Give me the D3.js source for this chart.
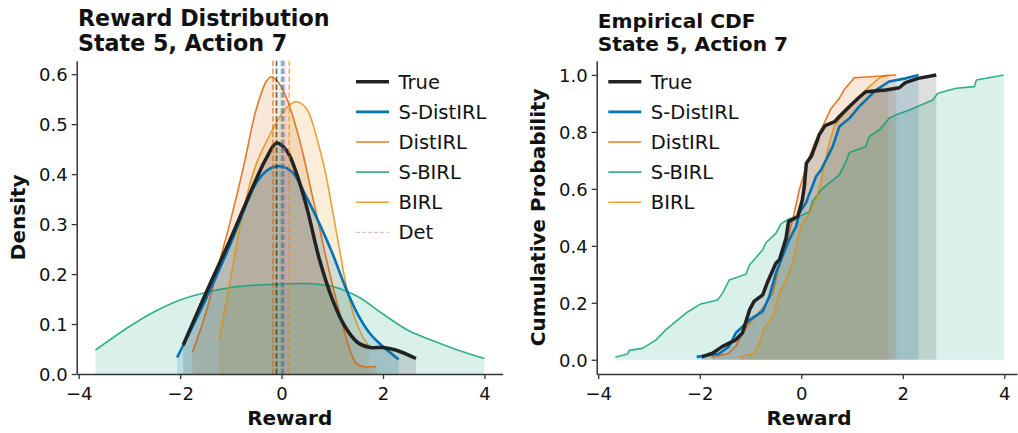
<!DOCTYPE html>
<html>
<head>
<meta charset="utf-8">
<script src="https://cdn.jsdelivr.net/npm/d3@7"></script>
<style>
  html, body { margin: 0; padding: 0; background: #fff; }
  svg { display: block; font-family: "DejaVu Sans", sans-serif; }
</style>
</head>
<body>
<svg id="chart" width="1018" height="433"></svg>
<script>
// ---------------- DATA ----------------
const methods = ["True", "S-DistIRL", "DistIRL", "S-BIRL", "BIRL"];
const xTicks = [-4, -2, 0, 2, 4];
const densityTicks = [0, 0.1, 0.2, 0.3, 0.4, 0.5, 0.6];
const cdfTicks = [0, 0.2, 0.4, 0.6, 0.8, 1.0];

// KDE curves [reward, density]
const kdeTrue = [[-1.94,0.058],[-1.5,0.16],[-1.0,0.272],[-0.5,0.39],[-0.3,0.432],[-0.1,0.462],[0.1,0.447],[0.3,0.40],[0.5,0.332],[0.75,0.228],[1.0,0.15],[1.25,0.095],[1.5,0.063],[1.75,0.053],[2.0,0.053],[2.25,0.048],[2.65,0.031]];
const kdeSDist = [[-2.06,0.033],[-1.5,0.148],[-1.0,0.262],[-0.5,0.382],[-0.25,0.41],[-0.05,0.416],[0.2,0.405],[0.5,0.352],[0.75,0.30],[1.0,0.242],[1.25,0.176],[1.5,0.12],[1.75,0.08],[2.0,0.055],[2.31,0.029]];
const kdeDist = [[-1.76,0.043],[-1.5,0.12],[-1.25,0.215],[-1.0,0.31],[-0.75,0.415],[-0.5,0.53],[-0.3,0.586],[-0.2,0.595],[-0.05,0.582],[0.1,0.552],[0.35,0.47],[0.6,0.36],[0.85,0.245],[1.0,0.18],[1.2,0.1],[1.35,0.048],[1.47,0.022],[1.6,0.015],[1.87,0.015]];
const kdeSBirl = [[-3.67,0.048],[-3.0,0.095],[-2.5,0.125],[-2.0,0.148],[-1.5,0.163],[-1.0,0.173],[-0.5,0.178],[0.0,0.18],[0.5,0.181],[1.0,0.175],[1.5,0.155],[2.0,0.12],[2.5,0.087],[3.0,0.066],[3.5,0.047],[4.0,0.031]];
const kdeBirl = [[-1.23,0.068],[-1.0,0.195],[-0.75,0.33],[-0.5,0.42],[-0.25,0.475],[0.0,0.52],[0.15,0.538],[0.3,0.545],[0.5,0.53],[0.7,0.47],[0.85,0.41],[1.0,0.33],[1.15,0.245],[1.3,0.165],[1.45,0.11],[1.6,0.075],[1.72,0.056]];

// mean reward markers (dashed vertical lines)
const meanNames = ["DistIRL", "True", "S-BIRL", "S-DistIRL", "Det", "BIRL"];
const meanValues = [-0.17, -0.10, 0.0, 0.03, 0.06, 0.15];

// Empirical CDF curves [reward, cumulative probability]
const cdfTrue = [[-1.96,0.01],[-1.75,0.023],[-1.55,0.047],[-1.29,0.07],[-1.16,0.094],[-1.08,0.14],[-1.02,0.175],[-0.93,0.205],[-0.76,0.228],[-0.66,0.275],[-0.5,0.339],[-0.43,0.351],[-0.3,0.427],[-0.25,0.485],[-0.07,0.503],[0.02,0.56],[0.06,0.608],[0.1,0.69],[0.2,0.715],[0.32,0.772],[0.35,0.789],[0.47,0.822],[0.66,0.836],[0.75,0.854],[0.88,0.877],[0.95,0.889],[1.12,0.918],[1.27,0.941],[1.67,0.947],[1.93,0.955],[2.05,0.973],[2.3,0.988],[2.66,1.0]];
const cdfSDist = [[-2.06,0.01],[-1.62,0.021],[-1.42,0.047],[-1.29,0.094],[-1.02,0.14],[-0.76,0.17],[-0.63,0.222],[-0.5,0.304],[-0.37,0.363],[-0.24,0.421],[-0.1,0.468],[-0.04,0.515],[0.09,0.55],[0.19,0.596],[0.29,0.643],[0.39,0.667],[0.52,0.713],[0.62,0.749],[0.75,0.819],[0.95,0.848],[1.14,0.889],[1.34,0.924],[1.47,0.947],[1.73,0.977],[2.06,0.988],[2.31,1.0]];
const cdfDist = [[-1.76,0.01],[-1.45,0.021],[-1.29,0.047],[-1.19,0.082],[-1.02,0.129],[-0.76,0.181],[-0.56,0.234],[-0.47,0.304],[-0.37,0.374],[-0.24,0.444],[-0.14,0.515],[-0.04,0.596],[0.06,0.655],[0.16,0.713],[0.29,0.772],[0.42,0.819],[0.58,0.88],[0.75,0.918],[0.85,0.95],[1.01,0.982],[1.04,0.99],[1.87,1.0]];
const cdfSBirl = [[-3.66,0.01],[-3.42,0.02],[-3.39,0.033],[-3.13,0.04],[-2.86,0.07],[-2.67,0.105],[-2.47,0.135],[-2.27,0.164],[-1.98,0.196],[-1.65,0.21],[-1.55,0.234],[-1.42,0.28],[-1.09,0.30],[-1.02,0.333],[-0.76,0.386],[-0.7,0.41],[-0.5,0.444],[-0.4,0.477],[-0.24,0.495],[-0.04,0.503],[0.16,0.52],[0.22,0.556],[0.42,0.602],[0.75,0.649],[0.88,0.696],[0.95,0.728],[1.27,0.749],[1.34,0.784],[1.54,0.807],[1.73,0.848],[1.87,0.86],[2.13,0.877],[2.59,0.912],[2.69,0.936],[3.05,0.953],[3.41,0.959],[3.45,0.982],[3.99,1.0]];
const cdfBirl = [[-1.22,0.01],[-0.93,0.021],[-0.83,0.058],[-0.73,0.111],[-0.56,0.152],[-0.43,0.234],[-0.33,0.269],[-0.17,0.339],[-0.1,0.398],[-0.01,0.468],[0.16,0.515],[0.29,0.561],[0.39,0.626],[0.45,0.678],[0.55,0.76],[0.65,0.819],[0.75,0.842],[0.95,0.889],[1.14,0.924],[1.34,0.959],[1.54,0.99],[1.72,1.0]];

// ---------------- STYLE ----------------
const style = {
  "True":      { color: "#222222", width: 3.5, alpha: 1.0 },
  "S-DistIRL": { color: "#0173b2", width: 2.6, alpha: 1.0 },
  "DistIRL":   { color: "#d55e00", width: 1.6, alpha: 0.8 },
  "S-BIRL":    { color: "#029e73", width: 1.6, alpha: 0.8 },
  "BIRL":      { color: "#de8f05", width: 1.6, alpha: 0.8 },
  "Det":       { color: "#cc78bc", width: 1.3, alpha: 0.5 }
};
const kdeData = { "True": kdeTrue, "S-DistIRL": kdeSDist, "DistIRL": kdeDist, "S-BIRL": kdeSBirl, "BIRL": kdeBirl };
const cdfData = { "True": cdfTrue, "S-DistIRL": cdfSDist, "DistIRL": cdfDist, "S-BIRL": cdfSBirl, "BIRL": cdfBirl };
const drawOrder = ["S-BIRL", "BIRL", "DistIRL", "S-DistIRL", "True"];

const svg = d3.select("#chart");
const spineColor = "#333";

function makeAxes(g, x, y, yTicks, yFmt) {
  const xa = g.append("g").attr("transform", `translate(0,${y.range()[0]})`)
    .call(d3.axisBottom(x).tickValues(xTicks).tickSize(5).tickSizeOuter(0).tickPadding(4).tickFormat(d3.format("d")));
  const ya = g.append("g").attr("transform", `translate(${x.range()[0]},0)`)
    .call(d3.axisLeft(y).tickValues(yTicks).tickSize(5).tickSizeOuter(0).tickPadding(4).tickFormat(d3.format(yFmt)));
  [xa, ya].forEach(a => {
    a.select(".domain").attr("stroke", spineColor).attr("stroke-width", 1.5);
    a.selectAll(".tick line").attr("stroke", spineColor).attr("stroke-width", 1.3);
    a.selectAll(".tick text").attr("fill", "#111").style("font-size", "18px").style("font-family", "DejaVu Sans");
  });
  ya.selectAll(".tick text").attr("dy", "0.35em");
  xa.selectAll(".tick text").attr("dy", "0.95em");
}

function legend(g, x0, names) {
  names.forEach((n, i) => {
    const s = style[n];
    const yy = 81.7 + i * 30.15;
    g.append("line").attr("x1", x0).attr("x2", x0 + 33).attr("y1", yy).attr("y2", yy)
      .attr("stroke", s.color).attr("stroke-opacity", s.alpha).attr("stroke-width", s.width)
      .attr("stroke-dasharray", n === "Det" ? "4,2" : null);
    g.append("text").attr("x", x0 + 42.5).attr("y", yy + 7).text(n)
      .style("font-size", "19.5px").attr("fill", "#111");
  });
}

// ---------------- LEFT: density ----------------
{
  const g = svg.append("g");
  const x = d3.scaleLinear().domain([-4.04, 4.36]).range([76.7, 502.7]);
  const y = d3.scaleLinear().domain([0, 0.627]).range([374, 60.7]);
  const area = d3.area().x(d => x(d[0])).y0(y(0)).y1(d => y(d[1])).curve(d3.curveCatmullRom.alpha(0.5));
  const line = d3.line().x(d => x(d[0])).y(d => y(d[1])).curve(d3.curveCatmullRom.alpha(0.5));
  drawOrder.forEach(n => {
    g.append("path").attr("d", area(kdeData[n])).attr("fill", style[n].color).attr("fill-opacity", 0.15);
  });
  drawOrder.forEach(n => {
    g.append("path").attr("d", line(kdeData[n])).attr("fill", "none")
      .attr("stroke", style[n].color).attr("stroke-opacity", style[n].alpha).attr("stroke-width", style[n].width);
  });
  meanNames.forEach((n, i) => {
    const s = style[n];
    g.append("line").attr("x1", x(meanValues[i])).attr("x2", x(meanValues[i]))
      .attr("y1", y.range()[1]).attr("y2", y(0))
      .attr("stroke", s.color).attr("stroke-width", 1.6)
      .attr("stroke-opacity", n === "Det" ? 0.5 : (n === "True" ? 0.7 : 0.6))
      .attr("stroke-dasharray", "5.5,2.4");
  });
  makeAxes(g, x, y, densityTicks, ".1f");
  legend(g, 356, ["True", "S-DistIRL", "DistIRL", "S-BIRL", "BIRL", "Det"]);
  g.append("text").attr("x", 78).attr("y", 26).text("Reward Distribution")
    .style("font-size", "22.2px").style("font-weight", "bold").attr("fill", "#111");
  g.append("text").attr("x", 78).attr("y", 51).text("State 5, Action 7")
    .style("font-size", "22.2px").style("font-weight", "bold").attr("fill", "#111");
  g.append("text").attr("x", 289.7).attr("y", 425).attr("text-anchor", "middle").text("Reward")
    .style("font-size", "20px").style("font-weight", "bold").attr("fill", "#111");
  g.append("text").attr("transform", "translate(24.5,217.3) rotate(-90)").attr("text-anchor", "middle").text("Density")
    .style("font-size", "20px").style("font-weight", "bold").attr("fill", "#111");
}

// ---------------- RIGHT: ECDF ----------------
{
  const g = svg.append("g");
  const x = d3.scaleLinear().domain([-4.03, 4.25]).range([596.7, 1017]);
  const y = d3.scaleLinear().domain([-0.05, 1.05]).range([374, 60.7]);
  const area = d3.area().x(d => x(d[0])).y0(y(0)).y1(d => y(d[1]));
  const line = d3.line().x(d => x(d[0])).y(d => y(d[1]));
  drawOrder.forEach(n => {
    g.append("path").attr("d", area(cdfData[n])).attr("fill", style[n].color).attr("fill-opacity", 0.15);
  });
  drawOrder.forEach(n => {
    g.append("path").attr("d", line(cdfData[n])).attr("fill", "none")
      .attr("stroke", style[n].color).attr("stroke-opacity", style[n].alpha).attr("stroke-width", style[n].width)
      .attr("stroke-linejoin", "round");
  });
  makeAxes(g, x, y, cdfTicks, ".1f");
  legend(g, 608.3, ["True", "S-DistIRL", "DistIRL", "S-BIRL", "BIRL"]);
  g.append("text").attr("x", 597.7).attr("y", 28.3).text("Empirical CDF")
    .style("font-size", "20.2px").style("font-weight", "bold").attr("fill", "#111");
  g.append("text").attr("x", 597.7).attr("y", 50.7).text("State 5, Action 7")
    .style("font-size", "20.2px").style("font-weight", "bold").attr("fill", "#111");
  g.append("text").attr("x", 809).attr("y", 425).attr("text-anchor", "middle").text("Reward")
    .style("font-size", "20px").style("font-weight", "bold").attr("fill", "#111");
  g.append("text").attr("transform", "translate(544.6,217.3) rotate(-90)").attr("text-anchor", "middle").text("Cumulative Probability")
    .style("font-size", "20px").style("font-weight", "bold").attr("fill", "#111");
}
</script>
</body>
</html>
